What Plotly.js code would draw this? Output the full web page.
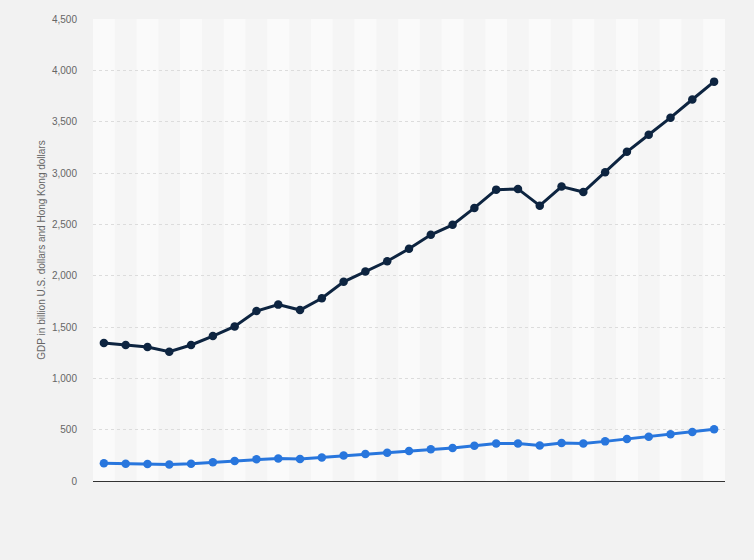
<!DOCTYPE html>
<html>
<head>
<meta charset="utf-8">
<script src="https://cdn.plot.ly/plotly-3.0.1.min.js"></script>
<style>
html,body{margin:0;padding:0;background:#f2f2f2;}
#chart{width:754px;height:560px;}
</style>
</head>
<body>
<div id="chart"></div>
<script>
var years = ['2000','2001','2002','2003','2004','2005','2006','2007','2008','2009','2010','2011','2012','2013','2014','2015','2016','2017','2018','2019','2020','2021','2022','2023','2024*','2025*','2026*','2027*','2028*'];
var gdpHKD = [1345,1325,1305,1260,1325,1412,1505,1655,1718,1665,1780,1940,2040,2140,2262,2398,2495,2660,2838,2845,2682,2868,2815,3008,3206,3373,3539,3716,3890];
var gdpUSD = [172,169,166,161,169,182,194,212,220,214,229,249,263,276,292,309,321,344,366,366,345,370,365,386,410,432,455,478,505];
var yTicks = [0,500,1000,1500,2000,2500,3000,3500,4000,4500];
var yTickText = ['0','500','1,000','1,500','2,000','2,500','3,000','3,500','4,000','4,500'];

var shapes = [];
for (var i = 0; i < years.length; i++) {
  if (i % 2 === 0) {
    shapes.push({type:'rect', xref:'x', yref:'paper', x0:i-0.5, x1:i+0.5, y0:0, y1:1,
      fillcolor:'#fafafa', line:{width:0}, layer:'below'});
  }
}

var traces = [
  {x: years, y: gdpHKD, type:'scatter', mode:'lines+markers', name:'GDP in billion Hong Kong dollars',
   line:{color:'#0d2440', width:3}, marker:{color:'#0d2440', size:8.5}},
  {x: years, y: gdpUSD, type:'scatter', mode:'lines+markers', name:'GDP in billion U.S. dollars',
   line:{color:'#2876dd', width:3}, marker:{color:'#2876dd', size:8.5}}
];

var layout = {
  width:754, height:560,
  paper_bgcolor:'#f2f2f2', plot_bgcolor:'#f5f5f5',
  margin:{l:93, r:29, t:19, b:79},
  showlegend:false,
  font:{family:'"Liberation Sans", Arial, sans-serif', color:'#666', size:10},
  shapes: shapes,
  xaxis:{type:'category', range:[-0.5, years.length-0.5], showticklabels:false, ticks:'',
    showgrid:false, showline:true, linecolor:'#333', linewidth:1, zeroline:false, fixedrange:true},
  yaxis:{range:[0,4500], tickvals:yTicks, ticktext:yTickText, showgrid:true, gridcolor:'#dcdcdc',
    griddash:'dot', gridwidth:1, zeroline:false, showline:false, ticks:'outside', ticklen:13,
    tickcolor:'rgba(0,0,0,0)',
    tickfont:{size:10, color:'#666'},
    title:{text:'GDP in billion U.S. dollars and Hong Kong dollars', font:{size:10, color:'#666'}, standoff:4}}
};

Plotly.newPlot('chart', traces, layout, {displayModeBar:false, staticPlot:true});
</script>
</body>
</html>
